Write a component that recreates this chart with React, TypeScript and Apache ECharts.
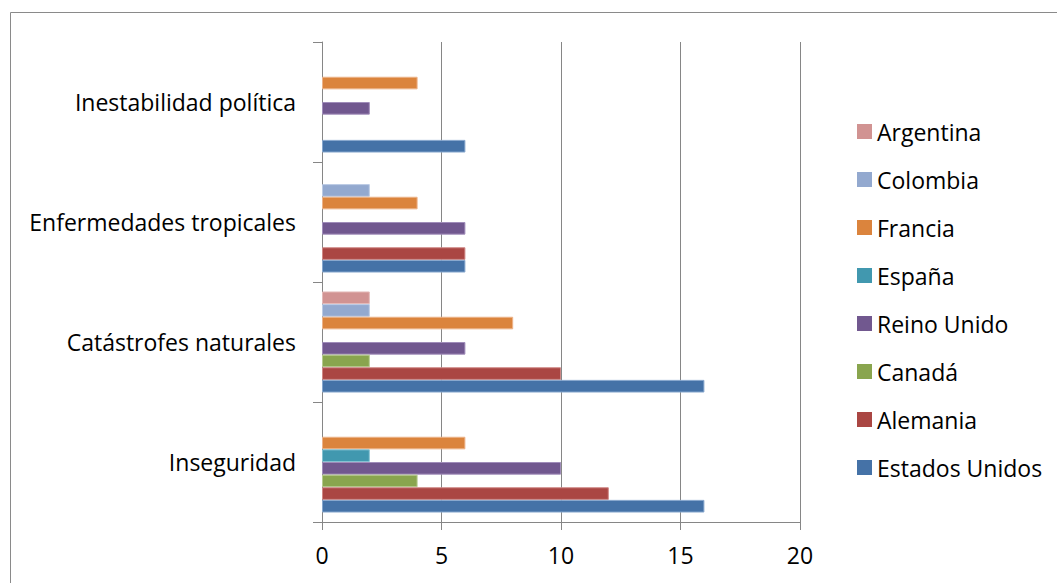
import React, { useEffect, useRef } from "react";
import * as echarts from "echarts";

const categories = ["Inseguridad", "Catástrofes naturales", "Enfermedades tropicales", "Inestabilidad política"];
const seriesNames = ["Argentina", "Colombia", "Francia", "España", "Reino Unido", "Canadá", "Alemania", "Estados Unidos"];
const argentina = [0, 2, 0, 0];
const colombia = [0, 2, 2, 0];
const francia = [6, 8, 4, 4];
const espana = [2, 0, 0, 0];
const reinoUnido = [10, 6, 6, 2];
const canada = [4, 2, 0, 0];
const alemania = [12, 10, 6, 0];
const estadosUnidos = [16, 16, 6, 6];
const seriesValues = [argentina, colombia, francia, espana, reinoUnido, canada, alemania, estadosUnidos];
const colors = ["#D19392", "#93A9CF", "#DB843D", "#4198AF", "#71588F", "#89A54E", "#AA4643", "#4572A7"];
const borders = ["#E3B9B8", "#BCCBE4", "#EDB38A", "#86C2D2", "#A08DBA", "#B6CB8F", "#CF8886", "#86A6CD"];
const xTicks = [0, 5, 10, 15, 20];

export default function App() {
  const ref = useRef<HTMLDivElement>(null);
  useEffect(() => {
    if (!ref.current) return;
    const chart = echarts.init(ref.current, null, { renderer: "svg" });
    const font = "'Open Sans', sans-serif";
    chart.setOption({
      animation: false,
      backgroundColor: "#ffffff",
      textStyle: { fontFamily: font },
      graphic: [
        {
          type: "rect",
          shape: { x: 10.5, y: 12.5, width: 1100, height: 700 },
          style: { fill: "none", stroke: "#8a8a8a", lineWidth: 1 },
          silent: true,
        },
      ],
      grid: { left: 322, right: 257, top: 42, bottom: 61, containLabel: false },
      xAxis: {
        type: "value",
        min: xTicks[0],
        max: xTicks[xTicks.length - 1],
        interval: 5,
        axisLine: { show: true, lineStyle: { color: "#868686", width: 1 } },
        axisTick: { show: true, length: 8, lineStyle: { color: "#868686" } },
        splitLine: { show: true, lineStyle: { color: "#868686", width: 1 } },
        axisLabel: { color: "#000", fontSize: 23, fontFamily: font, margin: 21 },
      },
      yAxis: {
        type: "category",
        data: categories,
        axisLine: { show: true, lineStyle: { color: "#868686", width: 1 } },
        axisTick: { show: true, length: 9, lineStyle: { color: "#868686" } },
        axisLabel: { color: "#000", fontSize: 23, fontFamily: font, margin: 26 },
      },
      legend: {
        orient: "vertical",
        left: 852,
        top: 115,
        itemWidth: 15,
        itemHeight: 15,
        itemGap: 25,
        icon: "rect",
        itemStyle: { borderWidth: 0 },
        textStyle: { color: "#000", fontSize: 23, fontFamily: font },
        data: seriesNames,
      },
      series: seriesNames.map((name, i) => ({
        name,
        type: "bar",
        data: seriesValues[i].map((v) => ({
          value: v,
          itemStyle: v === 0 ? { borderWidth: 0 } : undefined,
        })),
        barGap: "0%",
        barCategoryGap: "15.8%",
        itemStyle: { color: colors[i], borderColor: borders[i], borderWidth: 1 },
      })),
    });
    return () => chart.dispose();
  }, []);
  return <div ref={ref} style={{ position: "fixed", left: 0, top: 0, width: 1057, height: 583 }} />;
}
